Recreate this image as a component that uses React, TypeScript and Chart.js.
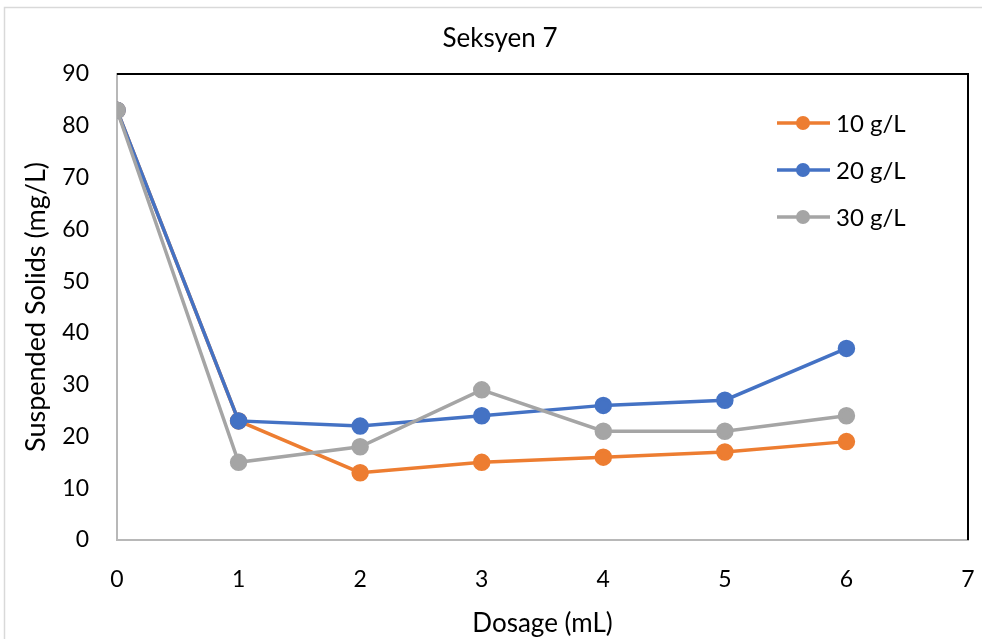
import React, { useEffect, useRef } from "react";
import { Chart, registerables } from "chart.js";

Chart.register(...registerables);

const dosage = [0, 1, 2, 3, 4, 5, 6];
const series10 = [83, 23, 13, 15, 16, 17, 19];
const series20 = [83, 23, 22, 24, 26, 27, 37];
const series30 = [83, 15, 18, 29, 21, 21, 24];
const seriesLabels = ["10 g/L", "20 g/L", "30 g/L"];
const seriesColors = ["#ED7D31", "#4472C4", "#A5A5A5"];
const chartTitle = "Seksyen 7";
const xTitle = "Dosage (mL)";
const yTitle = "Suspended Solids (mg/L)";

const FONT = "Lato, 'Open Sans', sans-serif";

const framePlugin = {
  id: "frame",
  beforeDraw(chart: any) {
    const ctx = chart.ctx;
    ctx.save();
    ctx.strokeStyle = "#d9d9d9";
    ctx.lineWidth = 1.5;
    ctx.strokeRect(4.5, 7.5, chart.width + 10, chart.height + 10);
    ctx.fillStyle = "#000000";
    ctx.font = `26px ${FONT}`;
    ctx.textAlign = "center";
    ctx.textBaseline = "middle";
    ctx.fillText(chartTitle, 500, 39);
    ctx.restore();
  },
  beforeDatasetsDraw(chart: any) {
    const { ctx, chartArea } = chart;
    ctx.save();
    ctx.strokeStyle = "#000000";
    ctx.lineWidth = 2;
    ctx.beginPath();
    ctx.moveTo(chartArea.left, chartArea.top);
    ctx.lineTo(chartArea.right, chartArea.top);
    ctx.lineTo(chartArea.right, chartArea.bottom);
    ctx.stroke();
    ctx.restore();
  },
};

const legendPlugin = {
  id: "insideLegend",
  afterDraw(chart: any) {
    const { ctx, chartArea } = chart;
    ctx.save();
    const x0 = chartArea.right - 191;
    const y0 = chartArea.top + 49;
    const gap = 47;
    chart.data.datasets.forEach((ds: any, i: number) => {
      const y = y0 + i * gap;
      ctx.strokeStyle = ds.borderColor;
      ctx.lineWidth = 3.5;
      ctx.beginPath();
      ctx.moveTo(x0, y);
      ctx.lineTo(x0 + 53, y);
      ctx.stroke();
      ctx.fillStyle = ds.backgroundColor;
      ctx.beginPath();
      ctx.arc(x0 + 26, y, 7, 0, Math.PI * 2);
      ctx.fill();
      ctx.fillStyle = "#000000";
      ctx.font = `24px ${FONT}`;
      ctx.textAlign = "left";
      ctx.textBaseline = "middle";
      ctx.fillText(ds.label, x0 + 59, y + 1);
    });
    ctx.restore();
  },
};

export default function App() {
  const ref = useRef<HTMLCanvasElement | null>(null);

  useEffect(() => {
    document.body.style.margin = "0";
    const canvas = ref.current;
    if (!canvas) return;
    const allSeries = [series10, series20, series30];
    const orders = [2, 1, 0];
    const chart = new Chart(canvas, {
      type: "line",
      data: {
        datasets: allSeries.map((s, i) => ({
          label: seriesLabels[i],
          data: dosage.map((d, j) => ({ x: d, y: s[j] })),
          borderColor: seriesColors[i],
          backgroundColor: seriesColors[i],
          pointBackgroundColor: seriesColors[i],
          pointBorderColor: seriesColors[i],
          borderWidth: 3.5,
          pointRadius: 7,
          pointHoverRadius: 7,
          tension: 0,
          order: orders[i],
        })),
      },
      options: {
        animation: false,
        responsive: false,
        maintainAspectRatio: false,
        events: [],
        layout: { padding: { left: 0, right: 14, top: 74, bottom: 0 } },
        plugins: {
          legend: { display: false },
          tooltip: { enabled: false },
          title: { display: false },
        },
        scales: {
          x: {
            type: "linear",
            min: 0,
            max: 7,
            ticks: {
              stepSize: 1,
              color: "#000000",
              font: { family: FONT, size: 23 },
              padding: 26,
            },
            grid: { display: false, drawTicks: false },
            border: { display: true, color: "#b8b8b8", width: 2 },
            title: {
              display: true,
              text: xTitle,
              color: "#000000",
              font: { family: FONT, size: 26 },
              padding: { top: 0, bottom: 0 },
            },
            afterFit(scale: any) {
              scale.height = 99;
              scale.paddingLeft = 0;
              scale.paddingRight = 0;
            },
          },
          y: {
            type: "linear",
            min: 0,
            max: 90,
            ticks: {
              stepSize: 10,
              color: "#000000",
              font: { family: FONT, size: 23 },
              padding: 28,
            },
            grid: { display: false, drawTicks: false },
            border: { display: true, color: "#b8b8b8", width: 2 },
            title: {
              display: true,
              text: yTitle,
              color: "#000000",
              font: { family: FONT, size: 27 },
              padding: { top: 20, bottom: 0 },
            },
            afterFit(scale: any) {
              scale.width = 117;
              scale.paddingTop = 0;
              scale.paddingBottom = 0;
            },
          },
        },
      },
      plugins: [framePlugin, legendPlugin],
    });
    return () => chart.destroy();
  }, []);

  return (
    <div style={{ width: 982, height: 639, position: "relative" }}>
      <canvas ref={ref} width={982} height={639} style={{ display: "block" }} />
    </div>
  );
}
